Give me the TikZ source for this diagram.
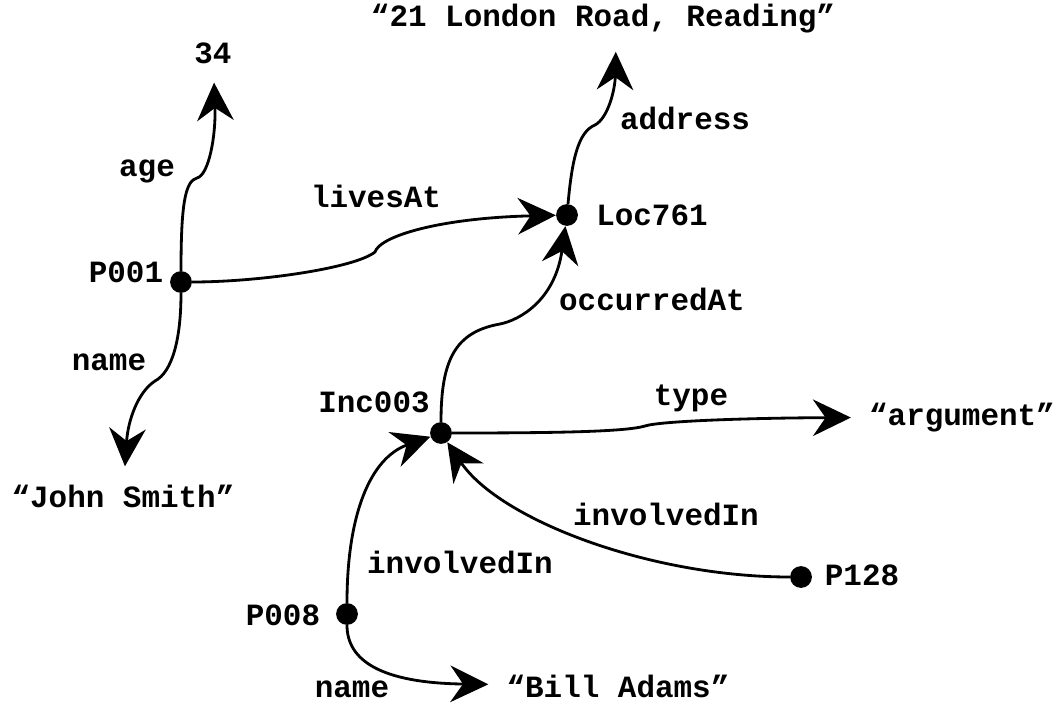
\documentclass[tikz,border=0pt]{standalone}
\usepackage{fontspec}
\setmonofont{Liberation Mono}
\usepackage{tikz}
\usetikzlibrary{arrows.meta, calc, positioning}
\tikzstyle{dot} = [circle, fill=black, inner sep=0pt, minimum size=15.5pt]
\tikzstyle{literal} = [inner sep=3pt, outer sep=10pt, anchor=base]
\tikzstyle{tag} = [inner sep=0pt, anchor=base]
\tikzstyle{arrow} = [line width=2pt, -{Stealth[length=27pt, width=26pt, inset=9pt]}]

\begin{document}
\begin{tikzpicture}[x=0.025cm, y=-0.025cm, font=\fontsize{22}{26}\selectfont\ttfamily\bfseries]
		\useasboundingbox (0,0) rectangle (1061,703);
		% resources
		\node (P001) [dot] at (181,282) {};
		\node (Loc761) [dot] at (567,215) {};
		\node (Inc003) [dot] at (441,433) {};
		\node (P008) [dot] at (347,614) {};
		\node (P128) [dot] at (801,577) {};
		\node (P001Name) [tag] at (126,282) {P001};
		\node (Loc761Name) [tag] at (652,225) {Loc761};
		\node (Inc003Name) [tag] at (374,412) {Inc003};
		\node (P008Name) [tag] at (283,625) {P008};
		\node (P128Name) [tag] at (862,585) {P128};
		% literals
		\node (Age) [literal] at (213,64) {34};
		\node (Address) [literal] at (603,27) {“21 London Road, Reading”};
		\node (JohnSmith) [literal] at (123,507) {“John Smith”};
		\node (Argument) [literal] at (962,425) {“argument”};
		\node (BillAdams) [literal] at (618,697) {“Bill Adams”};
		% properties
		\node (AgeLabel) [tag] at (147,177) {age};
		\node (NameLabel) [tag] at (109,370) {name};
		\node (LivesAtLabel) [tag] at (376,207) {livesAt};
		\node (AddressLabel) [tag] at (685,130) {address};
		\node (OccurredAtLabel) [tag] at (652,310) {occurredAt};
		\node (TypeLabel) [tag] at (691,405) {type};
		\node (InvolvedInLabel) [tag] at (666,525) {involvedIn};
		\node (InvolvedInLabelB) [tag] at (460,573) {involvedIn};
		\node (NameLabelB) [tag] at (352,697) {name};
		\draw [arrow] (P001) .. controls (181,205) and (185,181) .. (197,178) .. controls (209,175) and (216,135) .. (Age);
		\draw [arrow] (P001) .. controls (181,340) and (172,372) .. (155,381) .. controls (138,392) and (128,420) .. (JohnSmith);
		\draw [arrow] (P001) .. controls (260,282) and (355,268) .. (375,252) .. controls (380,236) and (440,218) .. (Loc761);
		\draw [arrow] (Loc761) .. controls (572,160) and (578,132) .. (595,125) .. controls (608,118) and (615,90) .. ([xshift=3.2mm]Address.south);
		\draw [arrow] (Inc003) .. controls (441,360) and (455,332) .. (500,324) .. controls (520,320) and (555,300) .. (Loc761);
		\draw [arrow] (Inc003) .. controls (550,433) and (625,432) .. (645,426) .. controls (660,421) and (750,418) .. (Argument);
		\draw [arrow] (P008) .. controls (347,515) and (370,458) .. (Inc003);
		\draw [arrow] (P128) .. controls (650,577) and (500,520) .. (Inc003);
		\draw [arrow] (P008) .. controls (347,660) and (380,683) .. (BillAdams);
\end{tikzpicture}
\end{document}
